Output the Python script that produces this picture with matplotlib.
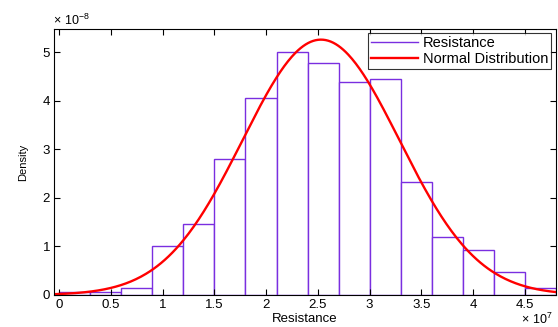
import numpy as np
import matplotlib
matplotlib.use('Agg')
import matplotlib.pyplot as plt
from matplotlib.lines import Line2D

plt.rcParams['font.family'] = ['Liberation Sans', 'DejaVu Sans']
plt.rcParams['mathtext.fontset'] = 'custom'
plt.rcParams['mathtext.rm'] = 'Liberation Sans'

# histogram of resistance (x in 1e7, density in 1e-8)
bin_edges = [0, 0.3, 0.6, 0.9, 1.2, 1.5, 1.8, 2.1, 2.4, 2.7, 3.0, 3.3, 3.6, 3.9, 4.2, 4.5, 4.8]
density = [0.07, 0.07, 0.14, 1.00, 1.46, 2.80, 4.06, 5.00, 4.78, 4.39, 4.45, 2.33, 1.20, 0.93, 0.47, 0.14]

# fitted normal distribution (x in 1e7)
mu = 2.53
sigma = 0.758

x_ticks = [0, 0.5, 1, 1.5, 2, 2.5, 3, 3.5, 4, 4.5]
y_ticks = [0, 1, 2, 3, 4, 5]

purple = '#7a2ee0'

fig = plt.figure(figsize=(5.58, 3.27), dpi=100)
ax = fig.add_axes([0.097, 0.098, 0.899, 0.813])

lefts = np.array(bin_edges[:-1])
widths = np.diff(bin_edges)
ax.bar(lefts, density, width=widths, align='edge', facecolor='white',
       edgecolor=purple, linewidth=1.0)

xs = np.linspace(-0.05, 4.8, 400)
# pdf per 1e7 units -> density in units of 1e-8
pdf = 10.0 / (sigma * np.sqrt(2 * np.pi)) * np.exp(-0.5 * ((xs - mu) / sigma) ** 2)
ax.plot(xs, pdf, color='red', linewidth=1.7)

ax.set_xlim(-0.05, 4.8)
ax.set_ylim(0, 5.48)
ax.set_xticks(x_ticks)
ax.set_xticklabels(['0', '0.5', '1', '1.5', '2', '2.5', '3', '3.5', '4', '4.5'])
ax.set_yticks(y_ticks)
ax.tick_params(direction='in', top=True, right=True, labelsize=9.5, length=4, pad=3)
for s in ax.spines.values():
    s.set_linewidth(0.8)

ax.set_xlabel('Resistance', fontsize=9.5, labelpad=1)
ax.set_ylabel('Density', fontsize=8, labelpad=10)

fig.text(0.095, 0.915, r'$\times\ 10^{-8}$', fontsize=9, ha='left', va='bottom')
fig.text(0.99, 0.0, r'$\times\ 10^{7}$', fontsize=9, ha='right', va='bottom')

handles = [Line2D([], [], color=purple, linewidth=1.0),
           Line2D([], [], color='red', linewidth=1.7)]
leg = ax.legend(handles, ['Resistance', 'Normal Distribution'], loc='upper right',
                fontsize=10.5, frameon=True, fancybox=False, edgecolor='black',
                borderpad=0.2, labelspacing=0.1, handlelength=3.2,
                handletextpad=0.35, borderaxespad=0.3)
leg.get_frame().set_linewidth(0.8)

fig.savefig('out.png', dpi=100)
